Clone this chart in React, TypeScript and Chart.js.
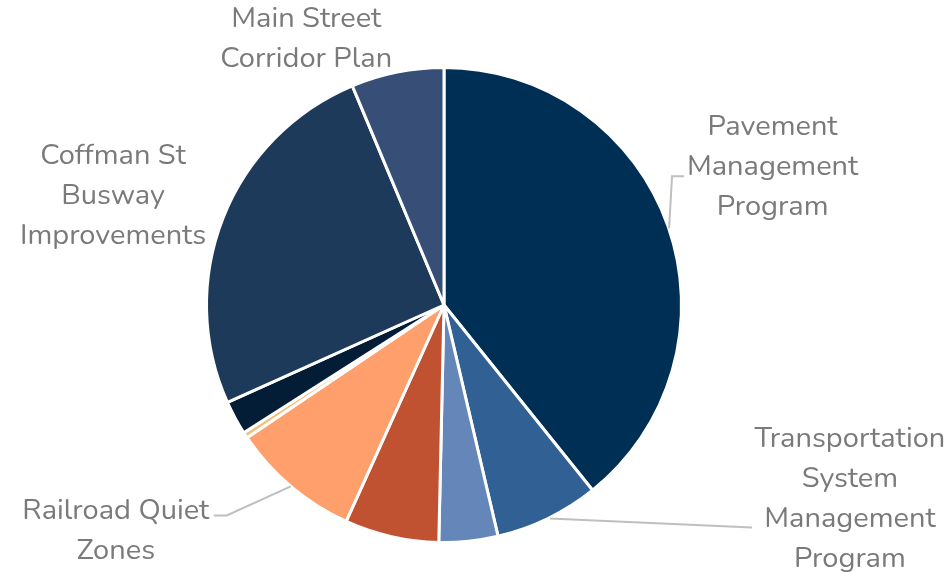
import React, { useEffect, useRef } from "react";
import { Chart, registerables } from "chart.js";

Chart.register(...registerables);

const categories = [
  "Pavement Management Program",
  "Transportation System Management Program",
  "",
  "",
  "Railroad Quiet Zones",
  "",
  "",
  "Coffman St Busway Improvements",
  "Main Street Corridor Plan",
];
const values = [39.2, 7.1, 4.0, 6.4, 8.8, 0.4, 2.3, 25.4, 6.3];
const colors = [
  "#002f56",
  "#306094",
  "#6586b8",
  "#c05231",
  "#ff9f6b",
  "#f3c07c",
  "#031d36",
  "#1e3a5a",
  "#374f77",
];

// label layout: text lines, text-block centre offset from slice's outer mid point, leader polyline offsets
const labelDefs = [
  { index: 0, lines: ["Pavement", "Management", "Program"], dx: 104.5, dy: -58, leader: [[1, 2], [4, -50], [16, -50]] },
  { index: 1, lines: ["Transportation", "System", "Management", "Program"], dx: 302, dy: -19, leader: [[2, 0], [204, 9]] },
  { index: 4, lines: ["Railroad Quiet", "Zones"], dx: -175, dy: 46, leader: [[0, 0], [-64, 29], [-77, 29]] },
  { index: 7, lines: ["Coffman St", "Busway", "Improvements"], dx: -110, dy: -21, leader: null },
  { index: 8, lines: ["Main Street", "Corridor Plan"], dx: -91, dy: -32, leader: null },
];

const labelPlugin = {
  id: "outerLabels",
  afterDraw(chart: any) {
    const ctx = chart.ctx;
    const meta = chart.getDatasetMeta(0);
    ctx.save();
    for (const def of labelDefs) {
      const arc = meta.data[def.index] as any;
      const { x, y, startAngle, endAngle, outerRadius } = arc.getProps(
        ["x", "y", "startAngle", "endAngle", "outerRadius"],
        true
      );
      const mid = (startAngle + endAngle) / 2;
      const px = x + Math.cos(mid) * outerRadius;
      const py = y + Math.sin(mid) * outerRadius;
      if (def.leader) {
        ctx.strokeStyle = "#bfbfbf";
        ctx.lineWidth = 2;
        ctx.beginPath();
        def.leader.forEach((p, i) => {
          if (i === 0) ctx.moveTo(px + p[0], py + p[1]);
          else ctx.lineTo(px + p[0], py + p[1]);
        });
        ctx.stroke();
      }
      ctx.fillStyle = "#7a7a7a";
      ctx.font = "29px 'Nunito', 'Lato', sans-serif";
      ctx.textAlign = "center";
      ctx.textBaseline = "middle";
      const lh = 40;
      const cx = px + def.dx;
      const cy = py + def.dy;
      const n = def.lines.length;
      def.lines.forEach((line, i) => {
        ctx.fillText(line, cx, cy + (i - (n - 1) / 2) * lh);
      });
    }
    ctx.restore();
  },
};

export default function App() {
  const ref = useRef<HTMLCanvasElement>(null);
  useEffect(() => {
    const chart = new Chart(ref.current!, {
      type: "pie",
      data: {
        labels: categories,
        datasets: [
          {
            data: values,
            backgroundColor: colors,
            borderColor: "#ffffff",
            borderWidth: 3,
          },
        ],
      },
      options: {
        responsive: false,
        animation: false,
        devicePixelRatio: 1,
        layout: { padding: { top: 66, bottom: 28, left: 205, right: 264 } },
        plugins: {
          legend: { display: false },
          tooltip: { enabled: false },
        },
      },
      plugins: [labelPlugin],
    });
    return () => chart.destroy();
  }, []);
  return (
    <div style={{ position: "absolute", left: 0, top: 0, width: 947, height: 572, background: "#fff" }}>
      <canvas ref={ref} width={947} height={572} />
    </div>
  );
}
